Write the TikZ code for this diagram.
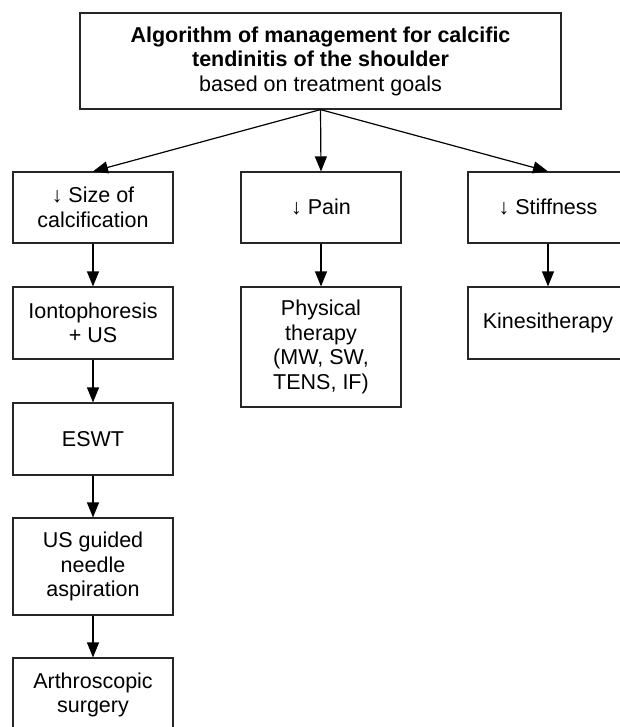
\documentclass[tikz,border=0pt]{standalone}
\usepackage{fontspec}
\setmainfont{Liberation Sans}
\usepackage{tikz}
\usetikzlibrary{arrows.meta}

\begin{document}
\begin{tikzpicture}[x=1pt, y=-1pt,
		box_style/.style={rectangle,draw=black!85,line width=1.2pt,inner sep=0pt,align=center,minimum width=160pt,font=\fontsize{21.5}{24.5}\selectfont},
		edge_style/.style={draw=black,line width=1.2pt,-{Triangle[length=15pt,width=12pt]}}]
		
		\useasboundingbox (0,0) rectangle (619,727);
		
		\node[box_style,minimum width=481pt,minimum height=96pt] (n0) at (320.5,61)  {\textbf{Algorithm of management for calcific}\\\textbf{tendinitis of the shoulder}\\based on treatment goals};
		\node[box_style,minimum height=71pt] (n1) at (93,207.5)  {↓ Size of\\calcification};
		\node[box_style,minimum height=71pt] (n2) at (321,207.5)  {↓ Pain};
		\node[box_style,minimum height=71pt] (n3) at (548,207.5)  {↓ Stiffness};
		\node[box_style,minimum height=72pt] (n4) at (93,323)  {Iontophoresis\\+ US};
		\node[box_style,minimum height=120pt] (n5) at (321,347)  {Physical\\therapy\\(MW, SW,\\TENS, IF)};
		\node[box_style,minimum height=72pt] (n6) at (548,323)  {Kinesitherapy};
		\node[box_style,minimum height=72pt] (n7) at (93,439)  {ESWT};
		\node[box_style,minimum height=97pt] (n8) at (93,566.5)  {US guided\\needle\\aspiration};
		\node[box_style,minimum height=74pt] (n9) at (93,695)  {Arthroscopic\\surgery};
		
		\path  (n0.south) edge[edge_style] (n1.north);
		\path  (n0.south) edge[edge_style] (n2.north);
		\path  (n0.south) edge[edge_style] (n3.north);
		\path  (n1) edge[edge_style] (n4);
		\path  (n2) edge[edge_style] (n5);
		\path  (n3) edge[edge_style] (n6);
		\path  (n4) edge[edge_style] (n7);
		\path  (n7) edge[edge_style] (n8);
		\path  (n8) edge[edge_style] (n9);
		
\end{tikzpicture}
\end{document}
